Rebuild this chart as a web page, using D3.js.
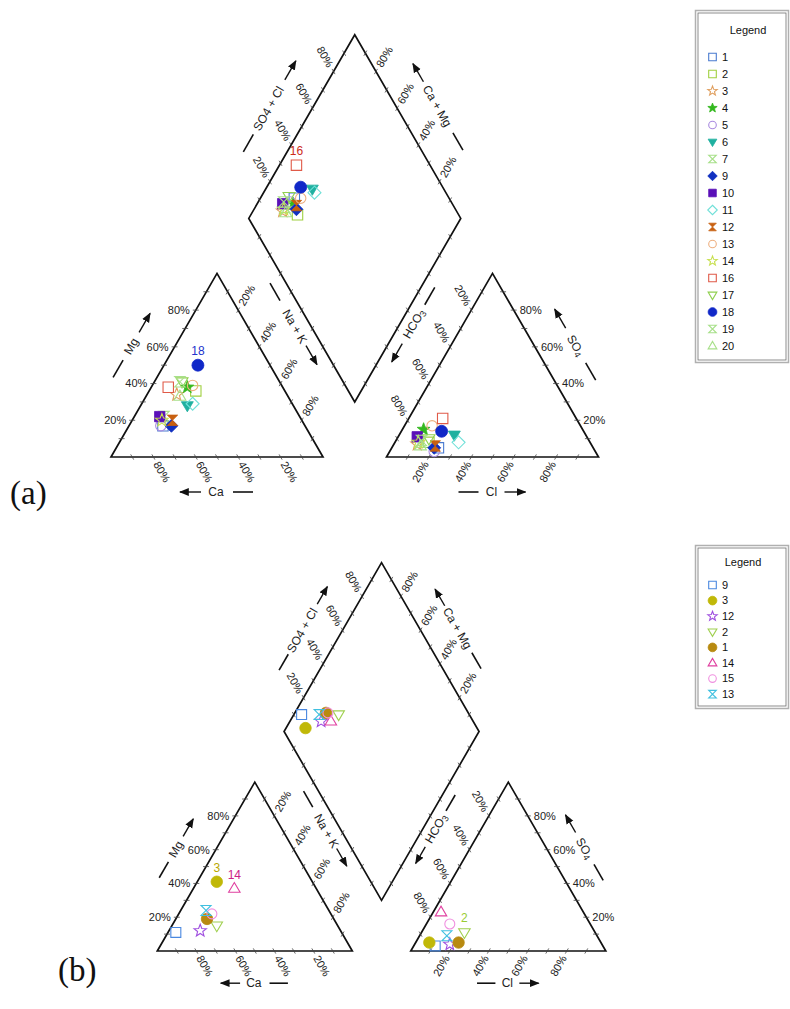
<!DOCTYPE html>
<html><head><meta charset="utf-8">
<script src="https://cdn.jsdelivr.net/npm/d3@7"></script>
<style>body{margin:0;background:#fff;} svg{display:block;font-family:"Liberation Sans",Arial,sans-serif;}</style>
</head><body><svg id="c" width="790" height="1009"></svg>
<script>
// ---------- DATA: panel (a) ----------
const idsA  = ["1","2","3","4","5","6","7","9","10","11","12","13","14","16","17","18","19","20"];
const mgA   = [17,36,34,38,17,28,22,17,22,29,20,39,20,38,41,50,41,33];
const nakA  = [16,22,14,17,15,22,14,20,12,24,19,19,14, 8,13,16,12,16];
const so4A  = [ 5, 8, 7,15, 3,12, 8, 5,11, 8, 6,17, 8,21,10,14, 9, 6];
const clA   = [22,16,11,10,21,26,12,20, 9,30,20,13,11,16,15,19,12,13];
// labelled points (id, plot part)
const labelsA = [["18","cation"],["16","diamond"]];

// ---------- DATA: panel (b) ----------
const idsB  = ["9","3","12","2","1","14","15","13"];
const mgB   = [11,41,12,15,19,37,22,24];
const nakB  = [ 4,10,16,23,16,21,17,13];
const so4B  = [ 3, 5, 4,11, 5,23,16, 9];
const clB   = [11, 7,18,22,22, 4,12,14];
const labelsB = [["3","cation"],["14","cation"],["2","anion"]];

const tickValues = [10,20,30,40,50,60,70,80,90];
const tickLabelValues = [20,40,60,80];

// ---------- STYLES ----------
const styleA = {
 "1":["square","#4a7bd0",false], "2":["square","#a0d040",false], "3":["star","#e0a060",false],
 "4":["star","#33b81e",true], "5":["circle","#a98be0",false], "6":["triDown","#1fb0a0",true],
 "7":["hourglass","#a8e08a",false], "9":["diamond","#1030c0",true], "10":["square","#5a10b8",true],
 "11":["diamond","#70e0d8",false], "12":["hourglass","#c86010",true], "13":["circle","#eeb080",false],
 "14":["star","#c8e050",false], "16":["square","#e05a48",false], "17":["triDown","#90d050",false],
 "18":["circle","#1028c8",true], "19":["hourglass","#a8e08a",false], "20":["triUp","#a8e08a",false]
};
const labelColorA = {"18":"#2233cc","16":"#cc2a1a"};
const styleB = {
 "9":["square","#4a88e0",false], "3":["circle","#c0b808",true], "12":["star","#a050e0",false],
 "2":["triDown","#a0d050",false], "1":["circle","#b88a10",true], "14":["triUp","#e040a0",false],
 "15":["circle","#f090e0",false], "13":["hourglass","#40c0e0",false]
};
const labelColorB = {"3":"#b8a800","14":"#cc2288","2":"#99cc33"};

const svg = d3.select("#c");
const defs = svg.append("defs");
defs.append("marker").attr("id","ah").attr("viewBox","0 0 10 10").attr("refX",9).attr("refY",5)
  .attr("markerWidth",7).attr("markerHeight",7).attr("orient","auto")
  .append("path").attr("d","M0,1 L10,5 L0,9 Z").attr("fill","#111");

function shapePath(shape, r, filled){
  switch(shape){
    case "square": return `M${-r},${-r}h${2*r}v${2*r}h${-2*r}Z`;
    case "circle": { const rr = filled ? r*1.15 : r; return d3.arc()({innerRadius:0,outerRadius:rr,startAngle:0,endAngle:2*Math.PI}); }
    case "star": {
      const R=r*1.3, ri=R*0.42; let p=[];
      for(let i=0;i<10;i++){const a=-Math.PI/2+i*Math.PI/5; const rr=i%2?ri:R; p.push([rr*Math.cos(a),rr*Math.sin(a)]);}
      return "M"+p.map(q=>q.join(",")).join("L")+"Z";
    }
    case "triDown": return `M${-r*1.15},${-r*0.75}L${r*1.15},${-r*0.75}L0,${r*1.2}Z`;
    case "triUp": return `M${-r*1.15},${r*0.75}L${r*1.15},${r*0.75}L0,${-r*1.2}Z`;
    case "diamond": return `M0,${-r*1.25}L${r*1.25},0L0,${r*1.25}L${-r*1.25},0Z`;
    case "hourglass": return `M${-r},${-r}L${r},${-r}L${-r},${r}L${r},${r}Z`;
  }
}
function drawMarker(g, x, y, st, r){
  const [shape,color,filled]=st;
  g.append("path").attr("d",shapePath(shape,r,filled)).attr("transform",`translate(${x},${y})`)
   .attr("fill",filled?color:"none").attr("stroke",color).attr("stroke-width",filled?0.8:1.1);
}

function piper(cfg){
  const {x0,y0,s,gap,ids,mg,nak,so4,cl,style,labels,labelColor} = cfg;
  const k = s/212;
  const S3 = Math.sqrt(3)/2;
  const len = d3.scaleLinear().domain([0,100]).range([0,s]);
  const h = s*S3;
  const g = svg.append("g");
  const CaV=[x0,y0], NaV=[x0+s,y0], MgV=[x0+s/2,y0-h];
  const ax0 = x0+s+gap;
  const HCV=[ax0,y0], ClV=[ax0+s,y0], SOV=[ax0+s/2,y0-h];
  const B=[x0+s+gap/2, y0-gap*S3], L=[B[0]-s/2,B[1]-h], T=[B[0],B[1]-2*h], R=[B[0]+s/2,B[1]-h];

  const line = d3.line();
  [[CaV,NaV,MgV],[HCV,ClV,SOV],[B,L,T,R]].forEach(poly=>{
    g.append("path").attr("d",line(poly)+"Z").attr("fill","none").attr("stroke","#111").attr("stroke-width",1.7);
  });

  const tickCol="#444";
  function edge(P0,P1,dir,lab){
    tickValues.forEach(v=>{
      const f=len(v)/s; const p=[P0[0]+f*(P1[0]-P0[0]), P0[1]+f*(P1[1]-P0[1])];
      g.append("line").attr("x1",p[0]-dir[0]*3).attr("y1",p[1]-dir[1]*3)
        .attr("x2",p[0]+dir[0]*3).attr("y2",p[1]+dir[1]*3).attr("stroke",tickCol).attr("stroke-width",0.8);
      if(lab && tickLabelValues.includes(v)){
        const d=lab.d;
        g.append("text").attr("transform",`translate(${p[0]+dir[0]*d},${p[1]+dir[1]*d}) rotate(${lab.rot})`)
         .attr("text-anchor",lab.anchor).attr("dy","0.35em").attr("font-size",11).attr("fill","#222")
         .text(v+"%");
      }
    });
  }
  const c60=0.5, s60=S3;
  edge(CaV,MgV,[-1,0],{d:6,rot:0,anchor:"end"});
  edge(NaV,CaV,[c60,s60],{d:6,rot:60,anchor:"start"});
  edge(MgV,NaV,[c60,-s60],{d:6,rot:-60,anchor:"start"});
  edge(HCV,ClV,[-c60,s60],{d:6,rot:-60,anchor:"end"});
  edge(SOV,HCV,[-c60,-s60],{d:6,rot:60,anchor:"end"});
  edge(ClV,SOV,[1,0],{d:6,rot:0,anchor:"start"});
  edge(L,T,[-c60,-s60],{d:6,rot:60,anchor:"end"});
  edge(R,T,[c60,-s60],{d:6,rot:-60,anchor:"start"});
  edge(B,L,[-c60,s60],null);
  edge(B,R,[c60,s60],null);

  function mid(P,Q){return [(P[0]+Q[0])/2,(P[1]+Q[1])/2];}
  function title(m,nrm,al,d,t,txt,dash,arr,rot){
    d*=k; t*=k;
    const pt=(tt)=>[m[0]+nrm[0]*d+al[0]*tt, m[1]+nrm[1]*d+al[1]*tt];
    const c=pt(t);
    const te=g.append("text").attr("transform",`translate(${c[0]},${c[1]}) rotate(${rot})`)
      .attr("text-anchor","middle").attr("dy","0.35em").attr("font-size",12).attr("fill","#222");
    txt.forEach(([str,sub])=>{
      const ts=te.append("tspan").text(str);
      if(sub){ts.attr("font-size",9).attr("dy",sub==="d"?"2":null);}
    });
    const d0=pt(dash[0]*k), d1=pt(dash[1]*k);
    g.append("line").attr("x1",d0[0]).attr("y1",d0[1]).attr("x2",d1[0]).attr("y2",d1[1]).attr("stroke","#111").attr("stroke-width",1.6);
    const a0=pt(arr[0]*k), a1=pt(arr[1]*k);
    g.append("line").attr("x1",a0[0]).attr("y1",a0[1]).attr("x2",a1[0]).attr("y2",a1[1]).attr("stroke","#111").attr("stroke-width",1.4).attr("marker-end","url(#ah)");
  }
  title(mid(CaV,MgV),[-s60,-c60],[c60,-s60],38,0,[["Mg"]],[-36,-16],[16,38],-60);
  title(mid(CaV,NaV),[0,1],[-1,0],35,1,[["Ca"]],[-36,-16],[16,37],0);
  title(mid(MgV,NaV),[s60,-c60],[c60,s60],41,-21,[["Na + K"]],[-71,-51],[1,23],60);
  title(mid(HCV,SOV),[-s60,-c60],[-c60,s60],43,-23,[["HCO"],["3","d"]],[-65,-45],[0,21],-60);
  title(mid(ClV,SOV),[s60,-c60],[-c60,-s60],36,2,[["SO"],["4","d"]],[-38,-18],[22,44],60);
  title(mid(HCV,ClV),[0,1],[1,0],35,-1,[["Cl"]],[-34,-14],[12,33],0);
  title(mid(L,T),[-s60,-c60],[c60,-s60],38,-1,[["SO4 + Cl"]],[-51,-31],[32,54],-60);
  title(mid(R,T),[s60,-c60],[-c60,-s60],36,3,[["Ca + Mg"]],[-48,-28],[31,52],60);

  const cat=(i)=>[x0+len(nak[i])+len(mg[i])/2, y0-len(mg[i])*S3];
  const ani=(i)=>[ax0+len(cl[i])+len(so4[i])/2, y0-len(so4[i])*S3];
  const dia=(i)=>{const a=100-nak[i], c=so4[i]+cl[i]; return [B[0]+(len(c)-len(a))/2, B[1]-(len(a)+len(c))*S3];};
  const mk=svg.append("g");
  const r=5.2*Math.min(1,k+0.04);
  ids.forEach((id,i)=>{
    [cat(i),ani(i),dia(i)].forEach(p=>drawMarker(mk,p[0],p[1],style[id],r));
  });
  labels.forEach(([id,part])=>{
    const i=ids.indexOf(id);
    const p= part==="cation"?cat(i):part==="anion"?ani(i):dia(i);
    mk.append("text").attr("x",p[0]).attr("y",p[1]-10).attr("text-anchor","middle")
      .attr("font-size",12).attr("fill",labelColor[id]).text(id);
  });
}

function legend(x,y,w,hh,titleX,titleY,firstY,step,ids,style){
  const g=svg.append("g");
  g.append("rect").attr("x",x+0.5).attr("y",y+0.5).attr("width",w).attr("height",hh).attr("fill","#fff").attr("stroke","#b0b0b0").attr("stroke-width",1.5);
  g.append("rect").attr("x",x+3).attr("y",y+3).attr("width",w-5).attr("height",hh-5).attr("fill","none").attr("stroke","#707070").attr("stroke-width",0.8);
  g.append("text").attr("x",titleX).attr("y",titleY).attr("text-anchor","middle").attr("dy","0.35em").attr("font-size",11).attr("fill","#111").text("Legend");
  ids.forEach((id,i)=>{
    const yy=firstY+i*step;
    drawMarker(g,x+17.5,yy,style[id],3.8);
    g.append("text").attr("x",x+27).attr("y",yy).attr("dy","0.35em").attr("font-size",11).attr("fill","#111").text(id);
  });
}

piper({x0:111,y0:457,s:212,gap:63.5,ids:idsA,mg:mgA,nak:nakA,so4:so4A,cl:clA,style:styleA,labels:labelsA,labelColor:labelColorA});
piper({x0:157.3,y0:951,s:195,gap:58.5,ids:idsB,mg:mgB,nak:nakB,so4:so4B,cl:clB,style:styleB,labels:labelsB,labelColor:labelColorB});

legend(695,10,93,352,748,30,57,17,idsA,styleA);
legend(695,545,93,163,743,562,585,15.6,idsB,styleB);

svg.append("text").attr("x",10).attr("y",504).attr("font-family","'Liberation Serif','Times New Roman',serif").attr("font-size",33).attr("fill","#111").text("(a)");
svg.append("text").attr("x",58).attr("y",981).attr("font-family","'Liberation Serif','Times New Roman',serif").attr("font-size",33).attr("fill","#111").text("(b)");
</script></body></html>
